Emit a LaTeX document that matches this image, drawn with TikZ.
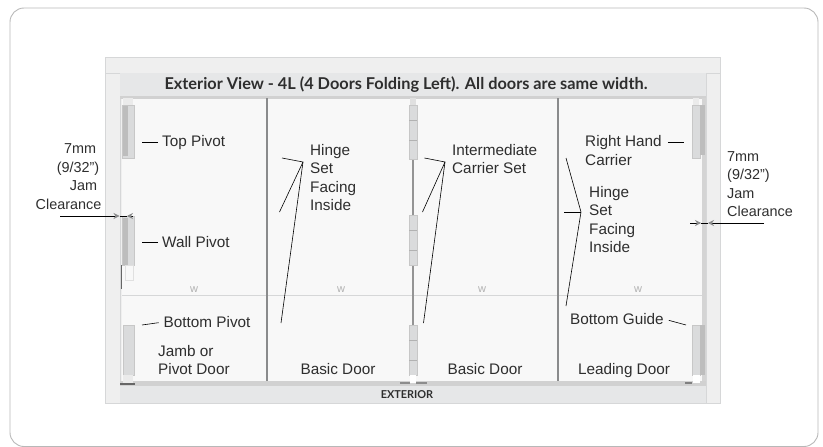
\documentclass[tikz,border=0pt]{standalone}
\usepackage{fontspec}
\setmainfont{Liberation Sans}
\newfontfamily\titlefont{Lato}
\usetikzlibrary{arrows.meta}

\definecolor{frameGray}{HTML}{EFEFEF}
\definecolor{bandGray}{HTML}{E6E7E8}
\definecolor{panelGray}{HTML}{F8F8F8}
\definecolor{edgeGray}{HTML}{D6D7D8}
\definecolor{postGray}{HTML}{8A8B8C}
\definecolor{partGray}{HTML}{DADBDC}
\definecolor{textGray}{HTML}{2E2E2E}

\tikzset{
    lbl/.style={inner sep=0pt, text=textGray, text height=10.9pt, text depth=0pt, font=\fontsize{15.3}{18}\selectfont},
    lblleft/.style={lbl, anchor=west},
    clrlbl/.style={lbl, font=\fontsize{14.4}{18}\selectfont},
    titlelbl/.style={inner sep=0pt, text=textGray, font=\titlefont\bfseries\fontsize{16.3}{19}\selectfont},
    wlbl/.style={inner sep=0pt, text=black!30, font=\fontsize{11}{12}\selectfont},
    leader/.style={black, line width=0.6pt},
    clearance/.style={black, line width=0.7pt},
    gaptip/.style={-{Stealth[length=6pt, width=6pt, color=postGray]}},
    part/.style={fill=partGray, draw=black!22, line width=0.7pt},
    post/.style={draw=postGray, line width=1.7pt},
}

\begin{document}
\begin{tikzpicture}[x=1pt, y=-1pt]
    \useasboundingbox (0, 0) rectangle (823, 447);

    % card
    \draw[black!28, line width=0.9pt, rounded corners=14pt] (10, 8) rectangle (818, 446.5);

    % frame and panels
    \fill[frameGray] (105, 57) rectangle (720, 403);
    \draw[edgeGray, line width=0.8pt] (105, 57) rectangle (720, 403);
    \draw[edgeGray, line width=0.8pt] (105, 73) -- (720, 73);
    \draw[edgeGray, line width=0.8pt] (120, 73) -- (120, 403);
    \draw[edgeGray, line width=0.8pt] (706, 73) -- (706, 403);
    \fill[bandGray] (120, 73) rectangle (706, 98);
    \fill[bandGray] (120, 381) rectangle (706, 403);
    \fill[panelGray] (122, 98) rectangle (702, 381);
    \fill[black!18] (120, 96) rectangle (706, 98.5);
    \fill[black!18] (120, 380.5) rectangle (706, 386);
    \fill[black!17] (702, 98) rectangle (706, 381);
    \draw[edgeGray, line width=1pt] (122, 295) -- (702, 295);

    % posts between doors
    \draw[post] (267, 98) -- (267, 381);
    \draw[post] (558, 98) -- (558, 381);
    \draw[post, draw=black!42, line width=2.6pt] (413, 155) -- (413, 381);

    % left side hardware
    \fill[black!8] (123, 98) rectangle (133, 105);
    \draw[part] (122.5, 105) rectangle (134, 158);
    \fill[black!26] (123, 105.5) rectangle (128, 156);
    \draw[part] (122.5, 216) rectangle (134, 265);
    \fill[black!26] (123, 218) rectangle (128, 265);
    \draw[black!12, fill=panelGray] (125, 265) rectangle (133, 280);
    \fill[black!60] (120.5, 265) rectangle (122, 289);
    \draw[part] (123, 325) rectangle (134, 375);
    \fill[black!8] (123, 375) rectangle (133, 383);
    \fill[black!60] (120, 383) rectangle (135, 385);

    % middle hardware
    \fill[black!12] (410, 98) rectangle (416, 105);
    \draw[part] (409, 105) rectangle (417, 159);
    \draw[part] (409, 215) rectangle (417, 265);
    \draw[part] (409, 325) rectangle (417, 375);
    \draw[black!30] (409, 120) -- (417, 120);
    \draw[black!30] (409, 140) -- (417, 140);
    \draw[black!30] (409, 230) -- (417, 230);
    \draw[black!30] (409, 250) -- (417, 250);
    \draw[black!30] (409, 340) -- (417, 340);
    \draw[black!30] (409, 360) -- (417, 360);
    \fill[white] (410, 375) rectangle (416, 383);
    \fill[black!45] (400, 382) rectangle (410, 384);
    \fill[black!45] (416, 382) rectangle (427, 384);

    % right side hardware
    \fill[black!8] (693, 98) rectangle (699, 105);
    \draw[part] (692, 105) rectangle (700, 158);
    \fill[black!26] (700, 105) rectangle (705, 155);
    \draw[part] (692, 325) rectangle (700, 375);
    \fill[black!26] (700, 325) rectangle (705, 375);
    \fill[white] (693, 375) rectangle (700, 383);
    \fill[black!50] (685, 382) rectangle (692, 384);

    % header and footer
    \node [titlelbl] (title) at (406, 84.5) {Exterior View - 4L (4 Doors Folding Left). All doors are same width.};
    \node [titlelbl, font=\titlefont\bfseries\fontsize{10.9}{12}\selectfont] (exterior) at (407, 395) {EXTERIOR};

    % width marks
    \node [wlbl] (wa) at (194, 290) {w};
    \node [wlbl] (wb) at (341, 290) {w};
    \node [wlbl] (wc) at (482, 290) {w};
    \node [wlbl] (wd) at (638, 290) {w};

    % left clearance
    \node [clrlbl] (leftmm) at (80, 148) {7mm};
    \node [clrlbl] (leftfrac) at (78, 167) {(9/32”)};
    \node [clrlbl] (leftjam) at (83.5, 185) {Jam};
    \node [clrlbl] (leftclr) at (68.5, 204) {Clearance};
    \coordinate (leftfree) at (60, 216);
    \coordinate (lefttip) at (119.5, 216);
    \coordinate (leftback) at (127, 216);
    \coordinate (leftend) at (132.5, 216);
    \draw[clearance, gaptip] (leftfree) -- (lefttip);
    \draw[clearance] (lefttip) -- (leftback);
    \draw[clearance, gaptip] (leftend) -- (leftback);

    % right clearance
    \node [clrlbl, anchor=west] (rightmm) at (727, 156) {7mm};
    \node [clrlbl, anchor=west] (rightfrac) at (727, 174) {(9/32”)};
    \node [clrlbl, anchor=west] (rightjam) at (727, 193) {Jam};
    \node [clrlbl, anchor=west] (rightclr) at (727, 211) {Clearance};
    \coordinate (rightfree) at (764, 223);
    \coordinate (righttip) at (708, 223);
    \coordinate (rightback) at (701, 223);
    \coordinate (rightstart) at (690, 223);
    \draw[clearance, gaptip] (rightfree) -- (righttip);
    \draw[clearance] (righttip) -- (rightback);
    \draw[clearance, gaptip] (rightstart) -- (rightback);

    % pivots
    \node [lblleft] (toppivot) at (162, 141) {Top Pivot};
    \coordinate (toppivotend) at (142, 142);
    \draw[leader, shorten <=4pt] (toppivot.west |- toppivotend) -- (toppivotend);
    \node [lblleft] (wallpivot) at (162, 242) {Wall Pivot};
    \coordinate (wallpivotend) at (142, 242);
    \draw[leader, shorten <=4pt] (wallpivot.west |- wallpivotend) -- (wallpivotend);
    \node [lblleft] (botpivot) at (163.5, 322) {Bottom Pivot};
    \coordinate (botpivotend) at (142, 325);
    \draw[leader, shorten <=5pt] (botpivot.west) -- (botpivotend);

    % door names
    \node [lblleft] (jamb) at (158, 351) {Jamb or};
    \node [lblleft] (pivotdoor) at (158, 369) {Pivot Door};
    \node [lbl] (basica) at (338, 369) {Basic Door};
    \node [lbl] (basicb) at (485, 369) {Basic Door};
    \node [lbl] (leading) at (624, 369) {Leading Door};

    % hinge set, left door
    \node [lblleft] (hingea) at (310, 150) {Hinge};
    \node [lblleft] (seta) at (310, 168) {Set};
    \node [lblleft] (facinga) at (310, 187) {Facing};
    \node [lblleft] (insidea) at (310, 205) {Inside};
    \coordinate (hingeajoin) at (303, 162);
    \coordinate (hingeaup) at (282, 158);
    \coordinate (hingeamid) at (279.5, 212);
    \coordinate (hingealow) at (281, 323);
    \draw[leader] (hingeaup) -- (hingeajoin) -- (hingeamid);
    \draw[leader] (hingeajoin) -- (hingealow);

    % intermediate carrier
    \node [lblleft] (intermediate) at (452, 150) {Intermediate};
    \node [lblleft] (carrierset) at (452, 168) {Carrier Set};
    \coordinate (carrjoin) at (445, 162);
    \coordinate (carrup) at (424.5, 158);
    \coordinate (carrmid) at (422.5, 212);
    \coordinate (carrlow) at (423.5, 323);
    \draw[leader] (carrup) -- (carrjoin) -- (carrmid);
    \draw[leader] (carrjoin) -- (carrlow);

    % right hand door
    \node [lblleft] (righthand) at (585, 141) {Right Hand};
    \node [lblleft] (carrier) at (585, 160) {Carrier};
    \coordinate (carrierend) at (684, 142);
    \draw[leader, shorten <=6pt] (righthand.east |- carrierend) -- (carrierend);
    \node [lblleft] (hingeb) at (589, 192) {Hinge};
    \node [lblleft] (setb) at (589, 210) {Set};
    \node [lblleft] (facingb) at (589, 229) {Facing};
    \node [lblleft] (insideb) at (589, 247) {Inside};
    \coordinate (hingebjoin) at (581, 212);
    \coordinate (hingebup) at (566, 158);
    \coordinate (hingebmid) at (564, 212);
    \coordinate (hingeblow) at (566, 306);
    \draw[leader] (hingebup) -- (hingebjoin) -- (hingeblow);
    \draw[leader] (hingebmid) -- (hingebjoin);
    \node [lblleft] (botguide) at (570, 319) {Bottom Guide};
    \coordinate (botguideend) at (686, 325);
    \draw[leader, shorten <=5pt] (botguide.east) -- (botguideend);
\end{tikzpicture}
\end{document}
